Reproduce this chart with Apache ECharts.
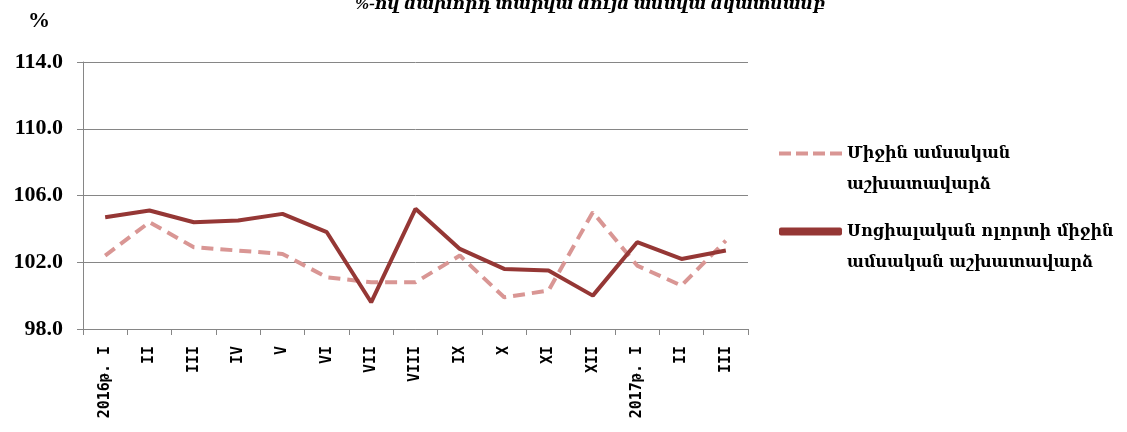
<!DOCTYPE html>
<html><head><meta charset="utf-8">
<script src="https://cdn.jsdelivr.net/npm/echarts@6/dist/echarts.min.js"></script>
<style>html,body{margin:0;padding:0;background:#fff}#c{width:1127px;height:432px}</style>
</head><body><div id="c"></div>
<script>
const categories = ['2016թ. I','II','III','IV','V','VI','VII','VIII','IX','X','XI','XII','2017թ. I','II','III'];
const avgWage = [102.4,104.4,102.9,102.7,102.5,101.1,100.8,100.8,102.4,99.9,100.3,105.0,101.8,100.6,103.3];
const socialWage = [104.7,105.1,104.4,104.5,104.9,103.8,99.6,105.2,102.8,101.6,101.5,100.0,103.2,102.2,102.7];
const seriesNames = ['Միջին ամսական\nաշխատավարձ','Սոցիալական ոլորտի միջին\nամսական աշխատավարձ'];
const titleText = '%-ով նախորդ տարվա նույն ամսվա նկատմամբ';
const unitText = '%';

const chart = echarts.init(document.getElementById('c'));
chart.setOption({
  animation:false,
  backgroundColor:'#fff',
  title:{text:titleText,left:350,top:-9,
    textStyle:{fontFamily:'Liberation Serif, DejaVu Serif',fontStyle:'italic',fontWeight:'bold',fontSize:17,color:'#000'}},
  legend:{
    orient:'vertical',left:774,top:102,itemWidth:63,itemHeight:8,itemGap:-15,
    data:[
      {name:seriesNames[0],icon:'path://M0,0h12v4h-12zM17,0h12v4h-12zM34,0h12v4h-12zM51,0h12v4h-12z',itemStyle:{color:'#D99694'}},
      {name:seriesNames[1],icon:'roundRect',itemStyle:{color:'#953735'}}
    ],
    formatter:n=>'\n'+n,
    textStyle:{fontFamily:'DejaVu Serif',fontWeight:'bold',fontSize:16,color:'#000',lineHeight:31}
  },
  graphic:[{type:'text',left:28,top:10,style:{text:unitText,font:'bold 22px "Liberation Serif"',fill:'#000'}}],
  grid:{left:83,right:379,top:62,bottom:103},
  xAxis:{type:'category',data:categories,boundaryGap:true,
    axisLine:{lineStyle:{color:'#868686',width:1}},
    axisTick:{show:true,alignWithLabel:false,length:6,lineStyle:{color:'#868686'}},
    axisLabel:{rotate:90,interval:0,margin:17,fontFamily:'DejaVu Sans Mono',fontWeight:'bold',fontSize:15,color:'#000'}},
  yAxis:{type:'value',min:98,max:114,interval:4,
    axisLine:{show:true,lineStyle:{color:'#868686'}},
    axisTick:{show:true,length:6,lineStyle:{color:'#868686'}},
    splitLine:{lineStyle:{color:'#868686'}},
    axisLabel:{formatter:v=>v.toFixed(1),margin:20,fontFamily:'Liberation Serif',fontWeight:'bold',fontSize:22,color:'#000'}},
  series:[
    {name:seriesNames[0],type:'line',data:avgWage,symbol:'none',
      lineStyle:{color:'#D99694',width:4,type:[12,7]},itemStyle:{color:'#D99694'}},
    {name:seriesNames[1],type:'line',data:socialWage,symbol:'none',
      lineStyle:{color:'#953735',width:4},itemStyle:{color:'#953735'}}
  ]
});
</script></body></html>
